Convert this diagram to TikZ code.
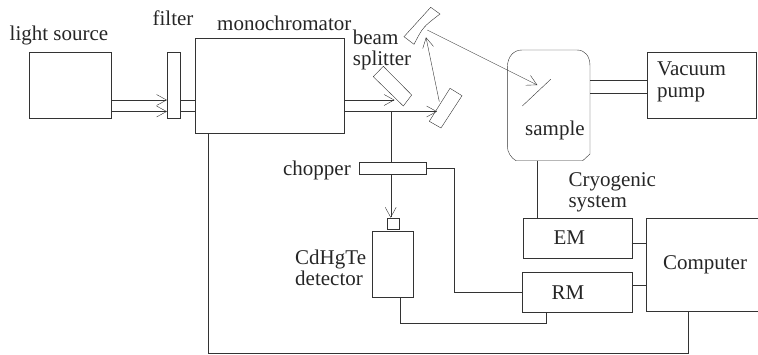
\documentclass[tikz,border=0pt]{standalone}
\usepackage{fontspec}
\setmainfont{Liberation Serif}
\usepackage{xcolor}
\usetikzlibrary{arrows.meta,calc}
\usetikzlibrary{positioning}
\definecolor{inkgray}{HTML}{333333}
\tikzset{>={Straight Barb[length=10pt,width=11pt]}, x=1pt, y=-1pt, line width=1.05pt,
box/.style={rectangle, draw=inkgray, inner sep=0pt, outer sep=0pt},
lab/.style={text=black!85, inner sep=0pt, font=\fontsize{21}{21}\selectfont},
wire/.style={draw=inkgray},
ray/.style={draw=inkgray, ->}}

\begin{document}
\begin{tikzpicture}
    \useasboundingbox (0,0) rectangle (758,354);

    % Nodes
    \node[box, minimum width=82pt, minimum height=66pt] (source) at (70.5,85) {};
    \node[box, minimum width=13.5pt, minimum height=66pt] (filter) at (173.7,85) {};
    \node[box, minimum width=148.5pt, minimum height=95pt] (mono) at (269.7,86) {};
    \node[box, minimum width=67pt, minimum height=11.7pt] (chopper) at (392.5,168.2) {};
    \node[box, minimum width=11.8pt, minimum height=11.6pt] (window) at (393.4,223.5) {};
    \node[box, minimum width=40.2pt, minimum height=66.7pt] (detector) at (392.7,264.3) {};
    \node[box, minimum width=109pt, minimum height=40pt] (em) at (577.2,237.7) {};
    \node[box, minimum width=110.7pt, minimum height=40.3pt] (rm) at (577.3,292.2) {};
    \node[box, minimum width=109.4pt, minimum height=66.6pt] (pump) at (701.5,85) {};
    \node[box, minimum width=114pt, minimum height=93.3pt] (computer) at (703.6,264.4) {};

    % Optics
    \draw[wire] (373.3,76.7) -- (383.3,66.3) -- (411.7,95) -- (403.3,106) -- cycle;
    \draw[wire] (429.3,121.3) -- (450,88.3) -- (462,95.7) -- (441,128) -- cycle;
    \draw[wire] (404,36.7) -- (430.7,7.3) -- (440,14) .. controls (423,27) .. (414,44.3) -- cycle;
    \draw[wire] (522.3,106) -- (550.7,79.3);
    \draw[wire] (507.3,68) .. controls (507.3,56) and (514,50) .. (522,50) -- (577,50)
       .. controls (585,50) and (590,56) .. (590,66) -- (590,154) -- (582.7,160.7) -- (516,160.7)
       .. controls (511,158) and (507.3,152) .. (507.3,146) -- cycle;
    \coordinate (cryo) at (537.4,160.7);
    \coordinate (cell) at (590,0);
    \coordinate (beamhi) at (0,100);
    \coordinate (beamlo) at (0,111.5);
    \coordinate (pumphi) at (0,79.7);
    \coordinate (pumplo) at (0,92.7);
    \coordinate (tap) at (390.7,111.5);
    \coordinate (fold) at (439.3,101.7);
    \coordinate (curved) at (426,37.3);
    \coordinate (curvedout) at (427.3,30);
    \coordinate (target) at (537.3,85);
    \coordinate (bsin) at (394.5,100);
    \coordinate (foldin) at (437,111.5);
    \coordinate (detout) at (400,297.7);
    \coordinate (rmin) at (546.6,312.3);
    \coordinate (compout) at (688,311);
    \coordinate (monoin) at (207.8,133.5);
    \coordinate (emlink) at (0,243.3);
    \coordinate (rmlink) at (0,285.3);

    % Edges
    \draw[ray] (source.east |- beamhi) -- (filter.west |- beamhi);
    \draw[ray] (source.east |- beamlo) -- (filter.west |- beamlo);
    \draw[wire] (filter.east |- beamhi) -- (mono.west |- beamhi);
    \draw[wire] (filter.east |- beamlo) -- (mono.west |- beamlo);
    \draw[ray] (mono.east |- beamhi) -- (bsin);
    \draw[ray] (mono.east |- beamlo) -- (foldin);
    \draw[ray] (fold) -- (curved);
    \draw[ray] (curvedout) -- (target);
    \draw[wire] (tap) -- (tap |- chopper.north);
    \draw[ray] (tap |- chopper.south) -- (tap |- window.north);
    \draw[wire] (cell |- pumphi) -- (pump.west |- pumphi);
    \draw[wire] (cell |- pumplo) -- (pump.west |- pumplo);
    \draw[wire] (cryo) -- (cryo |- em.north);
    \draw[wire] (chopper.east) -- ++(27.7,0) |- (rm.west);
    \draw[wire] (detout) -- ++(0,25.6) -| (rmin);
    \draw[wire] (em.east |- emlink) -- (computer.west |- emlink);
    \draw[wire] (rm.east |- rmlink) -- (computer.west |- rmlink);
    \draw[wire] (compout) -- ++(0,42.3) -| (monoin);

    % Labels
    \node[lab, anchor=base west] (lsource) at (9.5,40) {light source};
    \node[lab, anchor=base] (lfilter) at (173,25) {filter};
    \node[lab, anchor=base west] (lmono) at (217,30) {monochromator};
    \node[lab, anchor=base west] (lbeam) at (352.7,44) {beam};
    \node[lab, anchor=base west] (lsplit) at (352.7,65) {splitter};
    \node[lab, anchor=base west] (lsample) at (525,135) {sample};
    \node[lab, anchor=base west] (lvac) at (657,75) {Vacuum};
    \node[lab, anchor=base west] (lpump) at (657,97) {pump};
    \node[lab, anchor=base east] (lchop) at (351,175) {chopper};
    \node[lab, anchor=base west] (lcryo) at (568.3,186.7) {Cryogenic};
    \node[lab, anchor=base west] (lsys) at (568.3,207.7) {system};
    \node[lab, anchor=base west] (lcd) at (295,264) {CdHgTe};
    \node[lab, anchor=base west] (ldet) at (295,285) {detector};
    \node[lab, anchor=base] (lem) at (569.4,244) {EM};
    \node[lab, anchor=base] (lrm) at (568,299) {RM};
    \node[lab, anchor=base] (lcomp) at (705,269) {Computer};
\end{tikzpicture}
\end{document}
